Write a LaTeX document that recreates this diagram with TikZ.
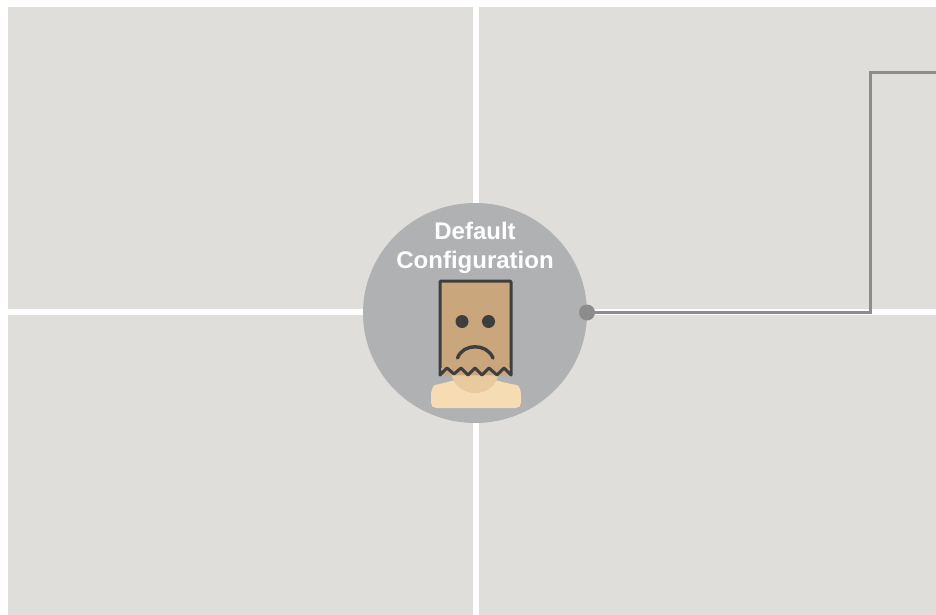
\documentclass[tikz,border=0pt]{standalone}
\usepackage{fontspec}
\usepackage{xcolor}
\usepackage{tikz}
\usetikzlibrary{shapes.geometric, positioning}
\setmainfont{Liberation Sans}
\definecolor{panelgrey}{HTML}{DFDEDB}
\definecolor{discgrey}{HTML}{B0B1B3}
\definecolor{wiregrey}{HTML}{8C8C8C}
\definecolor{bagbrown}{HTML}{C9A67C}
\definecolor{inkgrey}{HTML}{3E3E3E}
\definecolor{skinlight}{HTML}{F6DCB2}
\definecolor{skindark}{HTML}{E9C99E}

\begin{document}
\begin{tikzpicture}[x=1pt, y=-1pt, align=center]
    % Define styles
    \tikzstyle{panel} = [rectangle, fill=panelgrey, anchor=north west, inner sep=0pt]
    \tikzstyle{disc} = [ellipse, fill=discgrey, minimum width=224pt, minimum height=220pt, inner sep=0pt]
    \tikzstyle{title} = [text=white, font=\fontsize{24}{29}\selectfont\bfseries]
    \tikzstyle{dot} = [circle, fill=wiregrey, minimum size=16pt, inner sep=0pt]
    \tikzstyle{eye} = [circle, fill=inkgrey, minimum size=13pt, inner sep=0pt]
    \tikzstyle{wire} = [wiregrey, line width=2.5pt]
    \tikzstyle{ink} = [inkgrey, line width=3pt, line join=round, line cap=round]

    \useasboundingbox (0,0) rectangle (936,615);
    \fill[white] (0,0) rectangle (936,615);

    % Panels
    \node (panelnw) [panel, minimum width=465pt, minimum height=302pt] at (8,7) {};
    \node (panelne) [panel, minimum width=457pt, minimum height=302pt] at (479,7) {};
    \node (panelsw) [panel, minimum width=465pt, minimum height=300pt] at (8,315) {};
    \node (panelse) [panel, minimum width=457pt, minimum height=300pt] at (479,315) {};

    % Nodes
    \node (config) [disc] at (475,313) {};
    \node (label) [title] at (475,248) {Default\\Configuration};
    \node (anchordot) [dot] at (587,312.5) {};
    \coordinate (lowbend) at (870.5,312.5);
    \coordinate (highbend) at (870.5,72.5);
    \coordinate (wireend) at (936,72.5);

    % Arrows
    \draw [wire] (anchordot) -- (lowbend) -- (highbend) -- (wireend);

    % Figure
    \fill[skinlight, rounded corners=5pt] (431,408) -- (431,390) .. controls (434,385) and (445,383) .. (453,380) -- (497,380) .. controls (505,383) and (518,385) .. (521,390) -- (521,408) -- cycle;
    \fill[skindark] (451,372) .. controls (453,387) and (465,393) .. (475,393) .. controls (485,393) and (497,387) .. (499,372) -- cycle;
    \filldraw[ink, fill=bagbrown, rounded corners=1pt] (440,375) -- (440,281) -- (511,281) -- (511,375);
    \fill[bagbrown] (441,370) -- (510,370) -- (510,368) -- (441,368) -- cycle;
    \draw[ink, fill=bagbrown] (440,375) -- (447,368) -- (454,374) -- (461,368) -- (468,375) -- (475,368) -- (482,375) -- (489,368) -- (497,375) -- (504,368) -- (511,375);
    \node (lefteye) [eye] at (462,321.5) {};
    \node (righteye) [eye] at (488.5,321.5) {};
    \draw[ink, line width=3.4pt] (457.5,358) .. controls (463,343) and (487,343) .. (493,358);
\end{tikzpicture}
\end{document}
